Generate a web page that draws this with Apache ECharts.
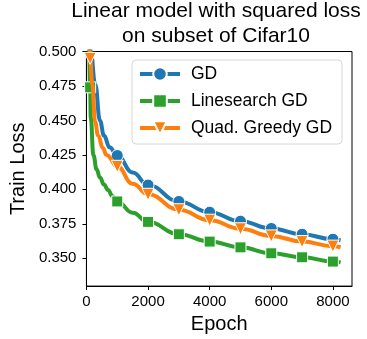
<!DOCTYPE html>
<html>
<head>
<meta charset="utf-8">
<script src="https://cdn.jsdelivr.net/npm/echarts@6/dist/echarts.min.js"></script>
<style>
html,body{margin:0;padding:0;background:#fff;}
#chart{width:367px;height:339px;}
</style>
</head>
<body>
<div id="chart"></div>
<script>
// ---- data ----
const seriesNames = ['GD', 'Linesearch GD', 'Quad. Greedy GD'];
const markerEpochs = [120, 1000, 2000, 3000, 4000, 5000, 6000, 7000, 8000];

const gdEpochs = [100, 137, 287, 437, 570, 750, 1000, 1500, 2000, 3000, 4000, 5000, 6000, 7000, 8000, 8250];
const gdLoss   = [0.525, 0.500, 0.476, 0.450, 0.439, 0.4305, 0.4245, 0.4122, 0.4031, 0.3912, 0.3834, 0.3769, 0.3716, 0.3674, 0.3638, 0.3630];

const lsEpochs = [60, 90, 120, 140, 225, 330, 440, 570, 700, 850, 1000, 1500, 2000, 3000, 4000, 5000, 6000, 7000, 8000, 8250];
const lsLoss   = [0.520, 0.497, 0.474, 0.452, 0.425, 0.4145, 0.4085, 0.4035, 0.3995, 0.3950, 0.3912, 0.3830, 0.3764, 0.3674, 0.3621, 0.3579, 0.3536, 0.3507, 0.3476, 0.3470];

const qgEpochs = [80, 120, 191, 280, 380, 533, 650, 1000, 1500, 2000, 3000, 4000, 5000, 6000, 7000, 8000, 8250];
const qgLoss   = [0.512, 0.495, 0.476, 0.449, 0.439, 0.430, 0.425, 0.4167, 0.4040, 0.3964, 0.3852, 0.3776, 0.3714, 0.3662, 0.3621, 0.3588, 0.3580];

const xTicks = [0, 2000, 4000, 6000, 8000];
const yTicks = [0.350, 0.375, 0.400, 0.425, 0.450, 0.475, 0.500];

const colors = ['#1f77b4', '#2ca02c', '#ff7f0e'];
const symbols = ['circle', 'rect', 'triangle'];
const symbolSizes = [12, 11, 12];
const symbolRotates = [0, 0, 180];

function build(epochs, loss) {
  return epochs.map((e, i) => {
    const item = { value: [e, loss[i]] };
    if (markerEpochs.indexOf(e) < 0) item.symbol = 'none';
    return item;
  });
}
const allData = [build(gdEpochs, gdLoss), build(lsEpochs, lsLoss), build(qgEpochs, qgLoss)];

const FONT = 'Liberation Sans, Arial, Helvetica, sans-serif';
const chart = echarts.init(document.getElementById('chart'), null, { renderer: 'canvas' });

chart.setOption({
  animation: false,
  backgroundColor: '#fff',
  title: {
    text: 'Linear model with squared loss\non subset of Cifar10',
    left: 216,
    top: -1,
    textAlign: 'center',
    padding: 0,
    textStyle: { fontFamily: FONT, fontSize: 21, fontWeight: 'normal', color: '#000', lineHeight: 24.5 }
  },
  grid: {
    left: 83, right: 15, top: 51.5, bottom: 49,
    show: true, borderColor: '#000', borderWidth: 1, backgroundColor: 'transparent',
    containLabel: false
  },
  legend: {
    orient: 'vertical',
    left: 132, top: 60,
    data: seriesNames,
    itemWidth: 40, itemHeight: 17, itemGap: 9,
    padding: [5, 10, 7, 6],
    backgroundColor: 'rgba(255,255,255,0.9)',
    borderColor: '#d6d6d6', borderWidth: 1, borderRadius: 4,
    lineStyle: { width: 4 },
    textStyle: { fontFamily: FONT, fontSize: 17.5, color: '#000', padding: [0, 0, 0, 6] }
  },
  xAxis: {
    type: 'value', min: 0, max: 8620,
    name: 'Epoch', nameLocation: 'middle', nameGap: 26,
    nameTextStyle: { fontFamily: FONT, fontSize: 20, color: '#000' },
    axisLine: { show: true, lineStyle: { color: '#000', width: 1 } },
    axisTick: { show: true, length: 4, lineStyle: { color: '#000' }, customValues: xTicks },
    axisLabel: { fontFamily: FONT, fontSize: 15, color: '#000', margin: 8, customValues: xTicks,
      formatter: v => String(Math.round(v)) },
    splitLine: { show: false }
  },
  yAxis: {
    type: 'value', min: 0.3298, max: 0.5,
    name: 'Train Loss', nameLocation: 'middle', nameGap: 55,
    nameTextStyle: { fontFamily: FONT, fontSize: 20, color: '#000' },
    axisLine: { show: true, lineStyle: { color: '#000', width: 1 } },
    axisTick: { show: true, length: 4, lineStyle: { color: '#000' }, customValues: yTicks },
    axisLabel: { fontFamily: FONT, fontSize: 15, color: '#000', margin: 10,
      customValues: yTicks, formatter: v => v.toFixed(3) },
    splitLine: { show: false }
  },
  series: seriesNames.map((name, k) => ({
    name: name,
    type: 'line',
    data: allData[k],
    smooth: 0.45,
    smoothMonotone: 'x',
    clip: true,
    color: colors[k],
    symbol: symbols[k],
    symbolSize: symbolSizes[k],
    symbolRotate: symbolRotates[k],
    showAllSymbol: true,
    lineStyle: { width: 4, color: colors[k] },
    itemStyle: { color: colors[k], borderColor: '#fff', borderWidth: 1 },
    z: 2 + k
  }))
});
</script>
</body>
</html>
